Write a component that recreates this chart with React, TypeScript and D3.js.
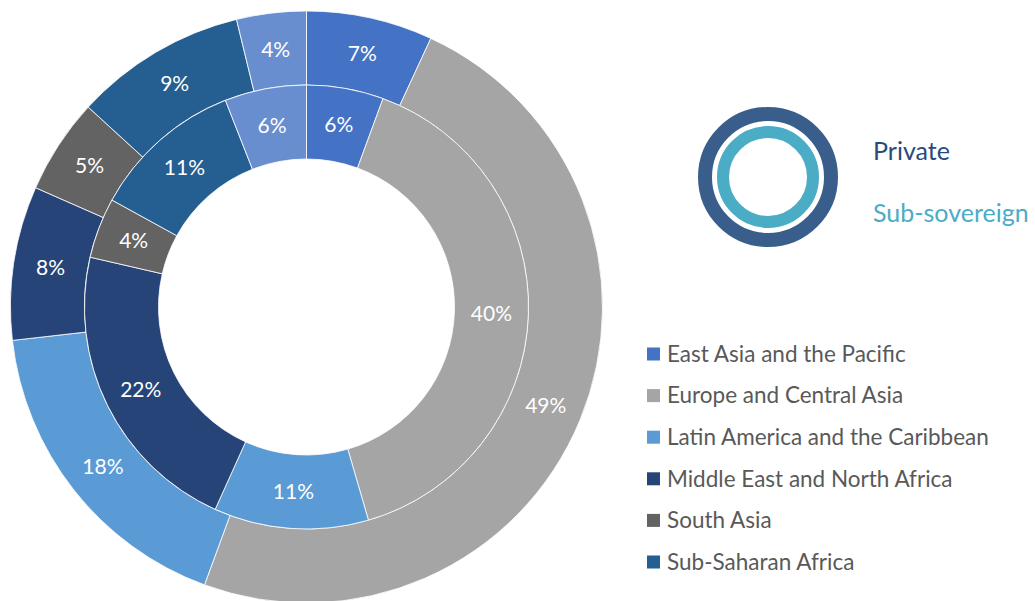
import React from "react";
import * as d3 from "d3";

const regions = [
  "East Asia and the Pacific",
  "Europe and Central Asia",
  "Latin America and the Caribbean",
  "Middle East and North Africa",
  "South Asia",
  "Sub-Saharan Africa",
  "Other",
];
// estimated shares (%), labels shown rounded
const privateValues = [6.9, 48.7, 17.6, 8.4, 5.2, 9.4, 3.8];
const subSovereignValues = [5.6, 39.9, 11.25, 21.85, 4.4, 11.05, 5.95];
const colors = ["#4472c4", "#a5a5a5", "#5b9bd5", "#264478", "#636363", "#255e91", "#698ed0"];
const legendItems = regions.slice(0, 6);
const ringLabels = ["Private", "Sub-sovereign"];

const W = 1035;
const H = 601;
const cx = 306.5;
const cy = 307;
const rHole = 148;
const rMid = 222;
const rOuter = 296;
const FONT = "Lato, 'Open Sans', sans-serif";

export default function App() {
  const pie = d3
    .pie<number>()
    .sort(null)
    .value((d) => d)
    .startAngle(0)
    .endAngle(2 * Math.PI);

  const outerArc = d3.arc<d3.PieArcDatum<number>>().innerRadius(rMid).outerRadius(rOuter);
  const innerArc = d3.arc<d3.PieArcDatum<number>>().innerRadius(rHole).outerRadius(rMid);

  const outerData = pie(privateValues);
  const innerData = pie(subSovereignValues);

  const legendY = d3.scaleLinear().domain([0, 5]).range([354, 562]);

  return (
    <svg
      width={W}
      height={H}
      style={{ position: "absolute", left: 0, top: 0, background: "#fff" }}
      fontFamily={FONT}
    >
      <g transform={`translate(${cx},${cy})`}>
        {outerData.map((d, i) => (
          <path key={"o" + i} d={outerArc(d) || ""} fill={colors[i]} stroke="#fff" strokeWidth={0.8} />
        ))}
        {innerData.map((d, i) => (
          <path key={"i" + i} d={innerArc(d) || ""} fill={colors[i]} stroke="#fff" strokeWidth={0.8} />
        ))}
        {outerData.map((d, i) => {
          const [x, y] = outerArc.centroid(d);
          return (
            <text key={"ol" + i} x={x} y={y} dy="0.35em" textAnchor="middle" fill="#fff" fontSize={21}>
              {Math.round(d.data)}%
            </text>
          );
        })}
        {innerData.map((d, i) => {
          const [x, y] = innerArc.centroid(d);
          return (
            <text key={"il" + i} x={x} y={y} dy="0.35em" textAnchor="middle" fill="#fff" fontSize={21}>
              {Math.round(d.data)}%
            </text>
          );
        })}
      </g>

      {/* ring legend */}
      <circle cx={768} cy={177} r={63} fill="none" stroke="#3a5e8c" strokeWidth={14} />
      <circle cx={768} cy={177} r={45} fill="none" stroke="#4bacc6" strokeWidth={12} />
      <text x={873} y={160} fill="#2b4a7c" fontSize={25}>
        {ringLabels[0]}
      </text>
      <text x={873} y={222} fill="#4bacc6" fontSize={25}>
        {ringLabels[1]}
      </text>

      {/* category legend */}
      {legendItems.map((name, i) => (
        <g key={name} transform={`translate(647,${legendY(i)})`}>
          <rect x={0} y={-6.5} width={13} height={13} fill={colors[i]} />
          <text x={20} y={0} dy="0.35em" fill="#595959" fontSize={22.5}>
            {name}
          </text>
        </g>
      ))}
    </svg>
  );
}
